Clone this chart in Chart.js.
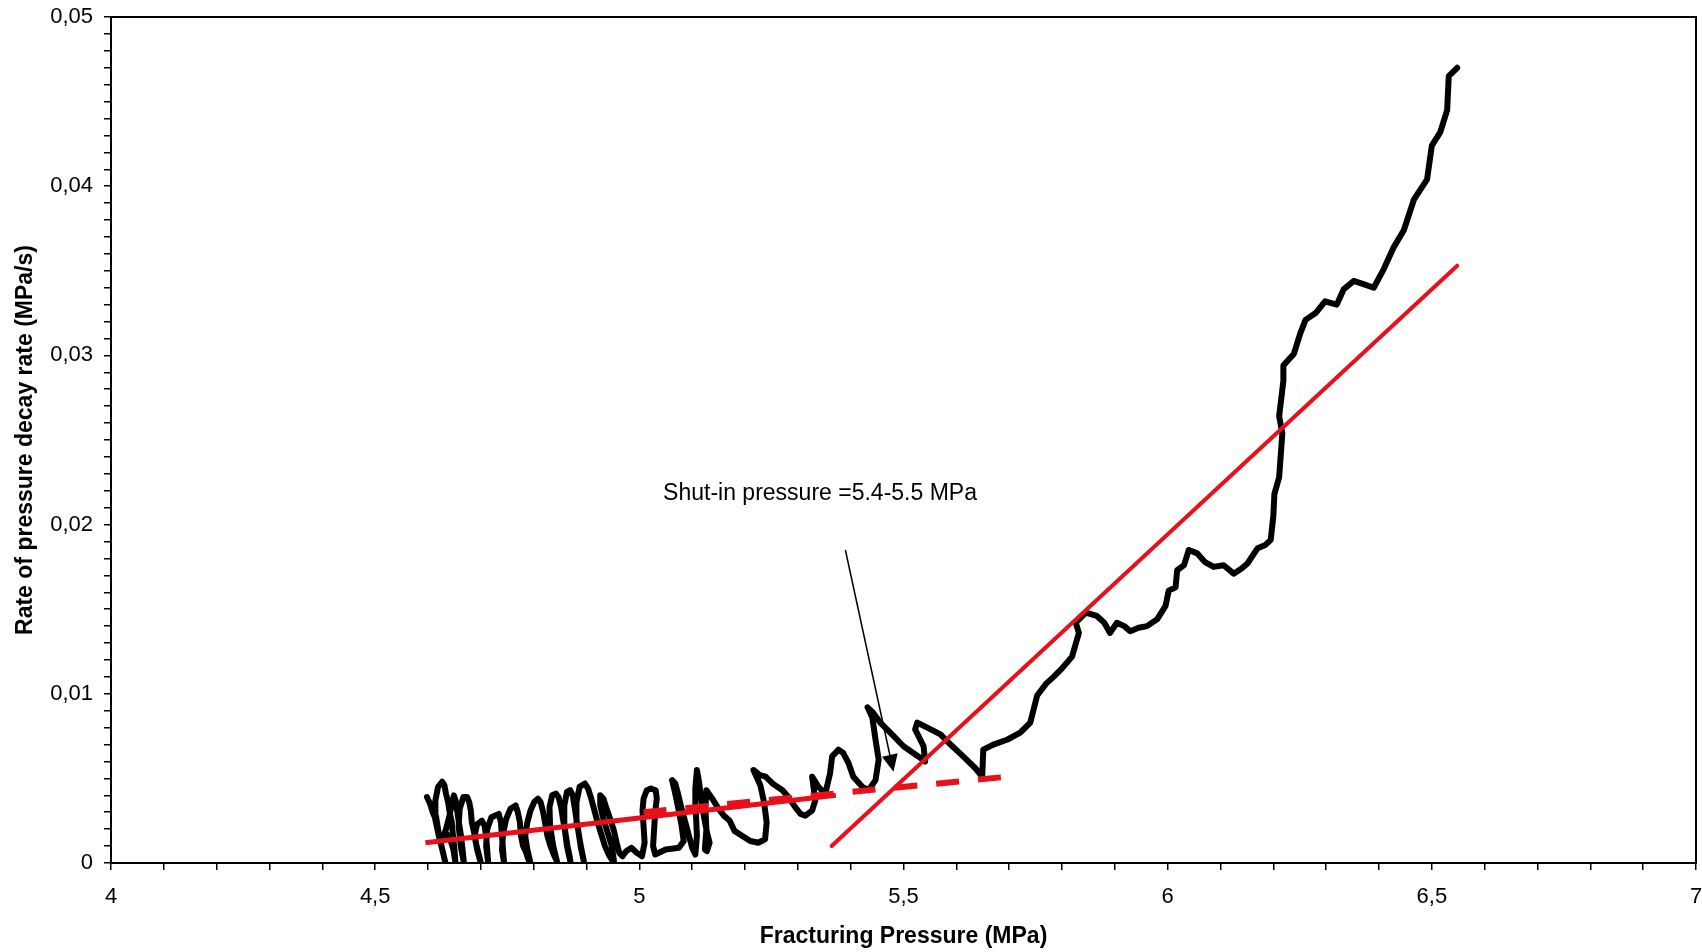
<!DOCTYPE html>
<html>
<head>
<meta charset="utf-8">
<title>Rate of pressure decay rate</title>
<script src="https://cdn.jsdelivr.net/npm/chart.js@4.4.1/dist/chart.umd.min.js"></script>
<style>
  html, body { margin: 0; padding: 0; background: #fff; }
  #wrap { width: 1702px; height: 952px; position: relative; }
</style>
</head>
<body>
<div id="wrap"><canvas id="decayChart"></canvas></div>
<script>
// Axis ticks and labels
const xMajorTicks = [4, 4.5, 5, 5.5, 6, 6.5, 7];
const xTickLabels = ['4', '4,5', '5', '5,5', '6', '6,5', '7'];
const yMajorTicks = [0, 0.01, 0.02, 0.03, 0.04, 0.05];
const yTickLabels = ['0', '0,01', '0,02', '0,03', '0,04', '0,05'];

// Measured trace: [fracturing pressure MPa, rate of pressure decay rate MPa/s]
const decayTrace = [
  // low pressure part, tangled loops
  [4.598,0.0039],[4.604,0.0035],[4.609,0.0030],[4.613,0.0027],[4.617,0.0021],[4.622,0.0014],[4.627,0.0008],[4.633,0.0000],
  [4.627,0.0008],[4.620,0.0018],[4.615,0.0028],[4.614,0.0037],[4.619,0.0045],[4.627,0.0048],
  [4.631,0.0046],[4.634,0.0041],[4.638,0.0036],[4.641,0.0030],[4.645,0.0024],[4.647,0.0017],[4.650,0.0008],[4.652,0.0000],
  [4.648,0.0008],[4.642,0.0014],[4.636,0.0017],[4.630,0.0016],[4.625,0.0012],
  [4.634,0.0020],[4.640,0.0027],[4.644,0.0033],[4.649,0.0040],[4.653,0.0036],[4.657,0.0027],[4.662,0.0017],[4.665,0.0009],[4.668,0.0000],
  [4.662,0.0010],[4.658,0.0022],[4.660,0.0032],[4.667,0.0039],[4.674,0.0039],[4.678,0.0036],[4.681,0.0031],[4.683,0.0024],
  [4.688,0.0017],[4.692,0.0010],[4.697,0.0004],[4.700,0.0000],
  [4.693,0.0008],[4.688,0.0016],[4.693,0.0023],[4.702,0.0025],[4.707,0.0022],[4.710,0.0016],[4.712,0.0008],[4.714,0.0000],
  [4.710,0.0010],[4.712,0.0020],[4.720,0.0027],[4.734,0.0029],[4.738,0.0024],[4.740,0.0016],[4.742,0.0008],[4.744,0.0000],
  [4.740,0.0008],[4.742,0.0017],[4.748,0.0026],[4.756,0.0032],[4.766,0.0034],[4.770,0.0030],[4.774,0.0024],[4.776,0.0016],
  [4.780,0.0010],[4.786,0.0006],[4.790,0.0002],[4.794,0.0000],
  [4.788,0.0008],[4.784,0.0016],[4.788,0.0024],[4.794,0.0031],[4.801,0.0036],[4.808,0.0038],[4.813,0.0036],
  [4.818,0.0030],[4.822,0.0023],[4.826,0.0016],[4.832,0.0010],[4.838,0.0005],[4.844,0.0001],
  [4.837,0.0010],[4.831,0.0022],[4.830,0.0033],[4.835,0.0040],[4.842,0.0041],[4.847,0.0039],[4.852,0.0033],[4.856,0.0025],
  [4.860,0.0018],[4.864,0.0010],[4.868,0.0004],[4.870,0.0000],
  [4.863,0.0010],[4.858,0.0022],[4.858,0.0034],[4.863,0.0042],[4.869,0.0043],[4.874,0.0040],[4.878,0.0032],[4.882,0.0024],
  [4.886,0.0016],[4.890,0.0008],[4.895,0.0001],
  [4.888,0.0012],[4.882,0.0024],[4.881,0.0036],[4.887,0.0045],[4.897,0.0047],[4.903,0.0044],[4.909,0.0038],[4.915,0.0031],
  [4.921,0.0024],[4.928,0.0017],[4.935,0.0010],[4.942,0.0005],[4.948,0.0002],[4.952,0.0001],
  [4.948,0.0010],[4.940,0.0018],[4.932,0.0026],[4.926,0.0034],[4.926,0.0040],[4.932,0.0038],[4.938,0.0032],[4.946,0.0025],
  [4.952,0.0019],[4.957,0.0012],[4.962,0.0006],[4.968,0.0004],[4.975,0.0007],[4.985,0.0009],[4.995,0.0006],[5.005,0.0004],
  // middle part
  [5.010,0.0012],[5.008,0.0022],[5.006,0.0031],[5.008,0.0038],[5.014,0.0043],[5.022,0.0044],[5.031,0.0043],[5.033,0.0038],
  [5.030,0.0030],[5.028,0.0020],[5.026,0.0010],[5.030,0.0005],
  [5.050,0.0008],[5.075,0.0009],[5.084,0.0013],[5.080,0.0022],[5.074,0.0032],[5.068,0.0041],[5.062,0.0049],
  [5.068,0.0047],[5.074,0.0040],[5.080,0.0032],[5.087,0.0024],[5.094,0.0016],[5.100,0.0009],[5.106,0.0005],
  [5.109,0.0016],[5.107,0.0030],[5.106,0.0044],[5.109,0.0055],[5.113,0.0048],[5.117,0.0038],[5.122,0.0028],[5.128,0.0018],
  [5.133,0.0012],[5.128,0.0007],[5.124,0.0008],
  [5.127,0.0020],[5.125,0.0032],[5.127,0.0043],[5.138,0.0038],[5.150,0.0032],[5.160,0.0028],[5.171,0.0025],[5.180,0.0019],
  [5.195,0.0016],[5.210,0.0013],[5.225,0.0012],[5.238,0.0014],[5.241,0.0024],[5.236,0.0036],[5.229,0.0046],[5.216,0.0055],
  [5.228,0.0052],[5.239,0.0051],[5.252,0.0047],[5.271,0.0043],[5.282,0.0039],[5.295,0.0033],
  [5.305,0.0029],[5.314,0.0028],[5.327,0.0031],[5.333,0.0037],[5.327,0.0051],[5.339,0.0045],
  [5.352,0.0041],[5.361,0.0053],[5.365,0.0063],[5.377,0.0067],[5.386,0.0065],[5.396,0.0059],
  [5.405,0.0051],[5.422,0.0045],[5.434,0.0043],[5.447,0.0049],[5.453,0.0061],[5.447,0.0073],
  [5.441,0.0086],[5.432,0.0092],
  [5.442,0.0089],[5.456,0.0083],[5.475,0.0077],[5.500,0.0069],[5.528,0.0063],[5.541,0.0060],
  [5.538,0.0069],[5.522,0.0079],[5.526,0.0083],[5.545,0.0080],[5.570,0.0076],[5.589,0.0070],
  [5.613,0.0063],[5.636,0.0056],[5.649,0.0051],[5.651,0.0067],[5.670,0.0070],[5.697,0.0073],
  // rising part
  [5.721,0.0077],[5.740,0.0083],[5.753,0.0099],[5.770,0.0106],[5.784,0.0110],[5.800,0.0115],
  [5.819,0.0122],[5.832,0.0136],[5.826,0.0142],[5.845,0.0148],[5.866,0.0146],[5.880,0.0142],
  [5.891,0.0136],[5.904,0.0142],[5.918,0.0140],[5.929,0.0137],[5.945,0.0139],[5.961,0.0140],
  [5.980,0.0144],[5.996,0.0152],[6.002,0.0161],[6.015,0.0163],[6.018,0.0173],[6.031,0.0176],
  [6.040,0.0185],[6.056,0.0183],[6.070,0.0178],[6.087,0.0175],[6.106,0.0176],[6.125,0.0171],
  [6.140,0.0174],[6.151,0.0177],[6.170,0.0186],[6.185,0.0188],[6.195,0.0191],[6.200,0.0205],
  [6.202,0.0218],[6.211,0.0228],[6.217,0.0254],[6.211,0.0264],[6.219,0.0285],[6.219,0.0294],
  [6.239,0.0301],[6.251,0.0313],[6.261,0.0321],[6.280,0.0325],[6.298,0.0332],[6.320,0.0330],
  [6.333,0.0339],[6.352,0.0344],[6.372,0.0342],[6.390,0.0340],[6.409,0.0351],[6.428,0.0364],
  [6.447,0.0374],[6.466,0.0392],[6.491,0.0404],[6.500,0.0424],[6.516,0.0432],[6.529,0.0445],
  [6.532,0.0465],[6.548,0.0470]
];

// Fitted straight lines (end points)
const lowFitX = [4.595, 5.372];
const lowFitY = [0.0012, 0.0040];
const lowExtX = [5.008, 5.697];
const lowExtY = [0.0030, 0.0051];
const steepFitX = [5.364, 6.548];
const steepFitY = [0.0010, 0.0353];

// Annotation
const noteText = 'Shut-in pressure =5.4-5.5 MPa';
const notePos = [5.045, 0.0218];
const arrowFrom = [5.390, 0.0185];
const arrowTo = [5.481, 0.0054];

const RED = '#e8101a';
const FONT = '"Liberation Sans", Arial, sans-serif';

function toPoints(xs, ys) {
  return xs.map((x, i) => ({ x: x, y: ys[i] }));
}

function labelFor(value, majors, labels) {
  const i = majors.findIndex(m => Math.abs(m - value) < 1e-7);
  return i >= 0 ? labels[i] : '';
}

const frameAndNote = {
  id: 'frameAndNote',
  afterDatasetsDraw(chart) {
    const { ctx, chartArea: a, scales: { x, y } } = chart;
    ctx.save();
    ctx.strokeStyle = '#000';
    ctx.lineWidth = 2;
    ctx.strokeRect(a.left, a.top, a.right - a.left, a.bottom - a.top);

    ctx.fillStyle = '#000';
    ctx.font = '23px ' + FONT;
    ctx.textBaseline = 'middle';
    ctx.textAlign = 'left';
    ctx.fillText(noteText, x.getPixelForValue(notePos[0]), y.getPixelForValue(notePos[1]));

    const x0 = x.getPixelForValue(arrowFrom[0]), y0 = y.getPixelForValue(arrowFrom[1]);
    const x1 = x.getPixelForValue(arrowTo[0]), y1 = y.getPixelForValue(arrowTo[1]);
    const ang = Math.atan2(y1 - y0, x1 - x0);
    const head = 17, half = 8;
    const bx = x1 - head * Math.cos(ang), by = y1 - head * Math.sin(ang);
    ctx.lineWidth = 1.5;
    ctx.beginPath();
    ctx.moveTo(x0, y0);
    ctx.lineTo(bx, by);
    ctx.stroke();
    ctx.beginPath();
    ctx.moveTo(x1, y1);
    ctx.lineTo(bx + half * Math.sin(ang), by - half * Math.cos(ang));
    ctx.lineTo(bx - half * Math.sin(ang), by + half * Math.cos(ang));
    ctx.closePath();
    ctx.fill();
    ctx.restore();
  }
};

const ctx = document.getElementById('decayChart').getContext('2d');
const decayChart = new Chart(ctx, {
  type: 'scatter',
  data: {
    datasets: [
      {
        label: 'Low pressure fit',
        data: toPoints(lowFitX, lowFitY),
        showLine: true,
        borderColor: RED,
        borderWidth: 5,
        pointRadius: 0,
        order: 1
      },
      {
        label: 'Low pressure fit extension',
        data: toPoints(lowExtX, lowExtY),
        showLine: true,
        borderColor: RED,
        borderWidth: 6,
        borderDash: [23, 19],
        pointRadius: 0,
        order: 1
      },
      {
        label: 'High pressure fit',
        data: toPoints(steepFitX, steepFitY),
        showLine: true,
        borderColor: RED,
        borderWidth: 4,
        borderCapStyle: 'round',
        pointRadius: 0,
        order: 1
      },
      {
        label: 'Decay rate',
        data: decayTrace.map(p => ({ x: p[0], y: p[1] })),
        showLine: true,
        borderColor: '#000',
        borderWidth: 6,
        borderJoinStyle: 'round',
        borderCapStyle: 'round',
        pointRadius: 0,
        tension: 0,
        order: 2
      }
    ]
  },
  options: {
    responsive: true,
    maintainAspectRatio: false,
    animation: false,
    layout: { padding: { left: 0, top: 17, right: 6, bottom: 0 } },
    plugins: { legend: { display: false }, tooltip: { enabled: false } },
    scales: {
      x: {
        type: 'linear',
        min: 4,
        max: 7,
        afterFit: s => { s.height = 89; s.paddingLeft = 0; s.paddingRight = 0; },
        border: { color: '#000', width: 2 },
        grid: { drawOnChartArea: false, drawTicks: true, tickLength: 7, color: '#000', lineWidth: 1.5 },
        ticks: {
          stepSize: 0.1,
          autoSkip: false,
          maxRotation: 0,
          padding: 14,
          color: '#000',
          font: { family: FONT, size: 22 },
          callback: v => labelFor(v, xMajorTicks, xTickLabels)
        },
        title: {
          display: true,
          text: 'Fracturing Pressure (MPa)',
          color: '#000',
          font: { family: FONT, size: 23, weight: 'bold' },
          padding: { top: 0, bottom: 2 }
        }
      },
      y: {
        type: 'linear',
        min: 0,
        max: 0.05,
        afterFit: s => { s.width = 111; s.paddingTop = 0; s.paddingBottom = 0; },
        border: { color: '#000', width: 2 },
        grid: { drawOnChartArea: false, drawTicks: true, tickLength: 7, color: '#000', lineWidth: 1.5 },
        ticks: {
          stepSize: 0.001,
          autoSkip: false,
          padding: 11,
          color: '#000',
          font: { family: FONT, size: 22 },
          callback: v => labelFor(v, yMajorTicks, yTickLabels)
        },
        title: {
          display: true,
          text: 'Rate of pressure decay rate (MPa/s)',
          color: '#000',
          font: { family: FONT, size: 23, weight: 'bold' },
          padding: { top: 12, bottom: 0 }
        }
      }
    }
  },
  plugins: [frameAndNote]
});
</script>
</body>
</html>
